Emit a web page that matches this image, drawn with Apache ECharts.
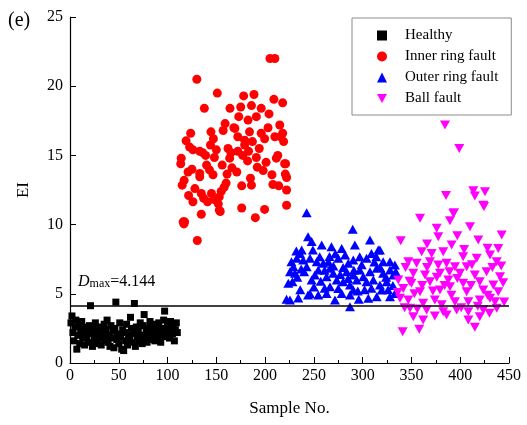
<!DOCTYPE html>
<html>
<head>
<meta charset="utf-8">
<script src="https://cdn.jsdelivr.net/npm/echarts@6/dist/echarts.min.js"></script>
<style>html,body{margin:0;padding:0;background:#fff;}#c{width:527px;height:425px;}</style>
</head>
<body>
<div id="c"></div>
<script>
// Healthy: EI values for sample No. 1..110
const healthyEI = [2.9,3.4,2.2,1.6,2.6,3.1,1.0,2.0,2.8,1.4,
  2.4,3.0,1.8,2.2,1.3,2.6,1.9,2.3,1.5,2.7,
  4.14,2.1,1.2,2.5,1.7,2.9,2.0,1.4,2.3,1.8,
  2.6,1.3,2.2,1.9,2.8,1.6,2.4,3.1,1.5,2.0,
  1.2,2.7,1.8,2.3,1.1,2.5,4.4,1.7,2.1,1.4,
  2.9,1.9,1.0,2.4,0.9,2.2,1.6,2.8,1.3,2.0,
  1.8,3.3,2.5,1.5,2.1,4.3,1.2,2.6,1.9,2.3,
  1.6,2.9,2.0,1.4,2.7,3.5,1.8,2.2,1.5,2.5,
  2.0,3.0,1.7,2.4,1.9,2.8,1.6,2.2,2.6,1.8,
  2.9,2.1,1.5,2.5,2.0,3.1,3.75,1.9,2.4,2.7,
  2.2,1.8,3.0,2.5,2.1,2.7,1.6,2.4,2.9,2.2];
const healthyStart = 1;

// Inner ring fault: [sample No., EI]
const innerRing = [[113.5,14.4],[114,14.8],[115,12.85],[116,10.2],[116.8,10.05],[117.5,10.2],[117,13.2],[119,16.05],
  [121.6,12.1],[122.6,15.6],[123.7,16.6],[126,15.4],[126,11.65],[128,12.6],[130,20.5],[130.5,8.85],
  [133,15.3],[133,13.7],[133,13.45],[134.6,12.25],[134.6,10.75],[136,15.2],[137,11.9],[137.7,18.4],
  [140,14.3],[141,11.65],[143,13.95],[144,15.75],[144.5,16.7],[145,12.25],[146.6,13.6],[148,14.85],
  [148,11.8],[150,15.4],[151,19.5],[152,11.5],[153,12.0],[153,11.05],[154,10.95],[155,12.4],
  [157,16.8],[158,12.7],[160,13.0],[161,13.65],[162,15.5],[163.7,14.8],[164,18.4],[165,15.2],
  [169,16.95],[172,16.35],[172,15.3],[173,17.8],[175,18.5],[176,12.8],[176,11.2],[178,19.3],
  [179,16.1],[179,15.75],[182,14.6],[182.5,17.55],[184,16.7],[185,13.35],[186,18.6],[186,12.85],
  [188.6,19.4],[190,10.5],[191,17.8],[191,14.85],[192,14.15],[196,18.4],[196,16.6],[198,13.9],
  [199.5,16.2],[199.5,11.1],[203,17.0],[205,22.0],[207,13.6],[208,12.9],[209,19.05],[210,16.35],
  [210,22.0],[211.5,14.8],[213,15.0],[215,17.2],[216,16.35],[218,16.6],[218,18.8],[220,14.4],
  [220.7,13.65],[221,14.4],[222,13.4],[222,12.5],[222,11.4],
  [125,14.0],[139,15.0],[147,16.2],[156,14.3],[159,17.3],[166,14.1],[168,17.0],[171,13.8],
  [177,15.0],[183,15.3],[187,16.0],[194,15.5],[201,14.5],[204,18.0],[214,12.8],[219,16.0],[121,13.8]];

// Outer ring fault: [sample No., EI]
const outerRing = [[242.6,10.86],[289.8,9.66],[244,9.13],[247.7,8.77],[258,8.53],[249,8.16],[268,8.4],[237.5,8.16],
  [235.8,7.92],[232.4,7.56],[227,7.32],[229,6.96],[230.6,6.48],[225.5,6.6],[223.8,5.76],[228,5.87],
  [225.5,4.55],[239,7.44],[242.6,6.96],[246,7.56],[252.9,7.32],[256,7.68],[259.6,7.2],[254.5,6.72],
  [251,6.36],[247.7,6.0],[244,4.91],[254.5,4.91],[263,5.03],[271.6,4.55],[264.8,7.32],[266.5,6.84],
  [269.9,6.48],[263,6.24],[273.4,6.0],[266.5,5.51],[275,5.39],[278.5,8.28],[275,7.56],[282,7.8],
  [285.3,7.2],[290.4,7.44],[292,8.53],[307.5,8.89],[317.7,8.16],[297,7.68],[304,7.56],[309,7.92],
  [314,7.68],[321,7.32],[328,7.32],[333,7.08],[283.6,6.6],[290.4,6.36],[297,6.72],[300.6,6.24],
  [307.5,6.6],[314.4,6.84],[321,6.48],[328,6.72],[331.4,6.36],[280,5.87],[287,5.64],[293.9,6.0],
  [304,5.87],[310.9,6.0],[317.7,5.64],[324.6,5.87],[278.5,5.03],[287,4.91],[290.4,5.27],[305.8,4.67],
  [314.4,4.79],[319.5,5.27],[328,4.79],[333,5.03],[287,4.07],[316,8.16],
  [233,6.2],[236,5.3],[240,6.6],[250,5.5],[257,5.9],[261,6.7],[270,7.0],[272,7.9],[280,6.9],[285,6.1],
  [295,5.2],[299,7.1],[302,5.3],[312,7.3],[318,6.9],[324,6.2],[326,5.3],[331,5.6],[334,6.6],[261,5.4],
  [246,5.0],[234,4.7],[296,4.6],[309,5.4],[232,8.1],[277,6.4],[266,7.7],[291,6.7],[222,4.6],[237,6.8]];

// Ball fault: [sample No., EI]
const ballFault = [[384.4,17.2],[399,15.5],[385.4,12.1],[413.4,12.45],[415,12.07],[425.4,12.38],[424.4,11.3],[393.6,10.86],
  [389.5,10.28],[358.8,10.45],[375.9,9.73],[410,9.85],[377.5,9.13],[339,8.84],[442.5,9.25],[418.5,8.89],
  [391.2,8.53],[360.5,8.04],[370.7,7.92],[382.6,8.04],[403,7.68],[416.9,7.56],[430.5,7.8],[439,8.28],
  [437.4,7.32],[346.8,7.32],[355.3,7.2],[369,7.32],[377.5,7.08],[386,7.2],[394.6,6.96],[406.6,6.96],
  [351.9,6.48],[363.9,6.36],[379.2,6.48],[399.7,6.48],[415,6.36],[427,6.6],[440.8,6.24],[336.5,6.0],
  [350,5.76],[369,5.87],[387.8,6.0],[403,5.76],[420,5.87],[433.9,5.64],[341.6,5.39],[358.8,5.15],
  [379.2,5.27],[389.5,5.51],[406.6,5.15],[423.6,5.27],[439,5.15],[338.3,4.67],[346.8,4.55],[362,4.31],
  [374,4.55],[394.6,4.43],[408.3,4.43],[420,4.55],[430.5,4.67],[435.6,4.43],[348.5,3.95],[365.6,3.83],
  [382.6,3.71],[396.4,3.83],[408.3,3.71],[423.6,3.83],[437.4,3.95],[351.9,3.35],[362,3.11],[386,3.47],
  [408.3,3.11],[420,3.35],[341,2.26],[358,2.43],[415,2.58],[423.6,11.4],[393,10.8],
  [344,6.9],[353,5.0],[366,6.9],[372,5.2],[381,4.2],[391,4.9],[397,6.1],[401,4.0],[411,5.6],[418,4.1],
  [428,4.9],[433,6.9],[444,5.8],[445,4.4],[366,8.6],[397,9.2],[404,8.2],[428,8.3],[348,5.9],[356,3.9],
  [374,3.4],[389,6.6],[412,7.1],[430,3.6],[442,7.0],[336,5.1],[343,4.0],[361,5.6],[376,6.2],[384,5.6]];

const dMax = 4.144;
const seriesNames = ['Healthy', 'Inner ring fault', 'Outer ring fault', 'Ball fault'];
const xTicks = {min: 0, max: 450, interval: 50};
const yTicks = {min: 0, max: 25, interval: 5};

const healthy = healthyEI.map((v, i) => [healthyStart + i, v]);
const FONT = 'Liberation Serif';

const chart = echarts.init(document.getElementById('c'), null, {renderer: 'canvas'});
chart.setOption({
  animation: false,
  backgroundColor: '#fff',
  textStyle: {fontFamily: FONT},
  grid: {left: 70, right: 18, top: 17, bottom: 62},
  graphic: [{type: 'text', left: 8, top: 11, style: {text: '(e)', font: '20px "Liberation Serif"', fill: '#000'}}],
  legend: {
    orient: 'vertical', left: 352, top: 18,
    padding: [10, 13, 9, 25],
    itemWidth: 10, itemHeight: 10, itemGap: 6,
    borderColor: '#8c8c8c', borderWidth: 1,
    textStyle: {fontFamily: FONT, fontSize: 15, color: '#000', padding: [0, 0, 0, 13]},
    data: [
      {name: seriesNames[0], icon: 'rect'},
      {name: seriesNames[1], icon: 'circle'},
      {name: seriesNames[2], icon: 'triangle'},
      {name: seriesNames[3], icon: 'path://M0,0 L10,0 L5,9 Z'}
    ]
  },
  xAxis: {
    type: 'value', min: xTicks.min, max: xTicks.max, interval: xTicks.interval,
    name: 'Sample No.', nameLocation: 'middle', nameGap: 37,
    nameTextStyle: {fontFamily: FONT, fontSize: 17, color: '#000'},
    axisLine: {lineStyle: {color: '#000', width: 1.2}},
    axisTick: {inside: true, length: 6, lineStyle: {color: '#000'}},
    minorTick: {show: true, splitNumber: 2, length: 3, lineStyle: {color: '#000'}},
    axisLabel: {fontFamily: FONT, fontSize: 16, color: '#000', margin: 5},
    splitLine: {show: false}
  },
  yAxis: {
    type: 'value', min: yTicks.min, max: yTicks.max, interval: yTicks.interval,
    name: 'EI', nameLocation: 'middle', nameGap: 38,
    nameTextStyle: {fontFamily: FONT, fontSize: 17, color: '#000'},
    axisLine: {show: true, lineStyle: {color: '#000', width: 1.2}},
    axisTick: {show: true, inside: true, length: 6, lineStyle: {color: '#000'}},
    axisLabel: {fontFamily: FONT, fontSize: 16, color: '#000', margin: 7},
    splitLine: {show: false}
  },
  series: [
    {name: seriesNames[0], type: 'scatter', symbol: 'rect', symbolSize: 7,
     itemStyle: {color: '#000', opacity: 1}, data: healthy},
    {name: seriesNames[1], type: 'scatter', symbol: 'circle', symbolSize: 9,
     itemStyle: {color: '#ff0000', opacity: 1}, data: innerRing},
    {name: seriesNames[2], type: 'scatter', symbol: 'triangle', symbolSize: [10, 9],
     itemStyle: {color: '#0000ff', opacity: 1}, data: outerRing},
    {name: seriesNames[3], type: 'scatter', symbol: 'triangle', symbolRotate: 180, symbolSize: [10, 9],
     itemStyle: {color: '#ff00ff', opacity: 1}, data: ballFault,
     markLine: {
       silent: true, symbol: 'none', animation: false,
       lineStyle: {color: '#000', width: 1.5, type: 'solid'},
       label: {
         show: true, position: 'insideStartTop', distance: [8, 16],
         formatter: '{i|D}{s|max}{n|=' + dMax.toFixed(3) + '}',
         rich: {
           i: {fontFamily: FONT, fontStyle: 'italic', fontSize: 16, color: '#000'},
           s: {fontFamily: FONT, fontSize: 12, color: '#000', verticalAlign: 'bottom'},
           n: {fontFamily: FONT, fontSize: 16, color: '#000'}
         }
       },
       data: [{yAxis: dMax}]
     }}
  ]
});
</script>
</body>
</html>
